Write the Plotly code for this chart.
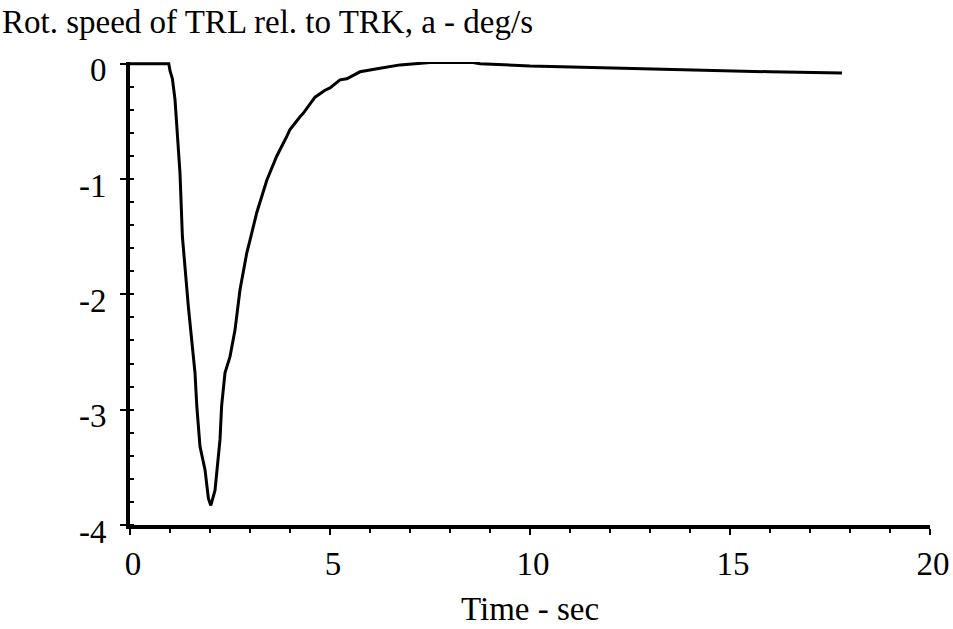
import plotly.graph_objects as go

# Relative rotational speed of trailer (TRL) w.r.t. tractor (TRK)
time_s = [0.0, 0.5, 0.97, 1.0, 1.06, 1.125, 1.25, 1.31, 1.46, 1.625, 1.67, 1.75,
          1.875, 1.96, 2.02, 2.125, 2.25, 2.29, 2.375, 2.5, 2.625, 2.75, 2.92,
          3.0, 3.17, 3.42, 3.67, 3.92, 4.0, 4.25, 4.33, 4.625, 4.875, 5.0,
          5.25, 5.42, 5.75, 6.25, 6.75, 7.5, 8.0, 8.58, 8.75, 10.0, 11.3,
          13.4, 16.0, 17.8]
rot_speed = [0.0, 0.0, 0.0, -0.06, -0.13, -0.31, -0.95, -1.50, -2.11, -2.68,
             -2.97, -3.32, -3.52, -3.77, -3.83, -3.70, -3.26, -2.97, -2.68,
             -2.54, -2.31, -1.96, -1.64, -1.53, -1.29, -1.01, -0.80, -0.63,
             -0.57, -0.46, -0.43, -0.29, -0.23, -0.21, -0.14, -0.13, -0.07,
             -0.04, -0.01, 0.01, 0.01, 0.01, 0.0, -0.02, -0.03, -0.05, -0.07,
             -0.08]

x_ticks = [0, 5, 10, 15, 20]
y_ticks = [0, -1, -2, -3, -4]

serif = "Liberation Serif, Times New Roman, serif"
fsize = 33

fig = go.Figure()
fig.add_trace(go.Scatter(
    x=time_s, y=rot_speed, mode="lines",
    line=dict(color="black", width=3),
    showlegend=False, hoverinfo="skip",
))

fig.update_layout(
    width=953, height=629,
    paper_bgcolor="white", plot_bgcolor="white",
    margin=dict(l=130, r=23, t=62, b=104),
    font=dict(family=serif, size=fsize, color="black"),
    annotations=[
        dict(text="Rot. speed of TRL rel. to TRK, a - deg/s",
             xref="paper", yref="paper", x=-0.1625, y=1.0, yshift=40,
             xanchor="left", yanchor="middle", showarrow=False,
             font=dict(family=serif, size=fsize, color="black")),
        dict(text="Time - sec",
             xref="paper", yref="paper", x=0.5, y=0.0, yshift=-84,
             xanchor="center", yanchor="middle", showarrow=False,
             font=dict(family=serif, size=fsize, color="black")),
    ],
)

fig.update_xaxes(
    range=[0, 20], tickvals=x_ticks, ticktext=[str(v) for v in x_ticks],
    automargin=False,
    showgrid=False, zeroline=False,
    showline=True, linecolor="black", linewidth=4,
    ticks="outside", ticklen=6, tickwidth=2, tickcolor="black",
    minor=dict(dtick=1, ticks="outside", ticklen=4, tickwidth=2,
               tickcolor="black", showgrid=False),
    tickfont=dict(family=serif, size=fsize),
    ticklabelshift=3,
)

fig.update_yaxes(
    range=[-4, 0.015], tickvals=y_ticks, ticktext=[str(v) for v in y_ticks],
    automargin=False,
    showgrid=False, zeroline=False,
    showline=True, linecolor="black", linewidth=4,
    ticks="outside", ticklen=6, tickwidth=2, tickcolor="black",
    minor=dict(dtick=0.2, ticks="inside", ticklen=4, tickwidth=2,
               tickcolor="black", showgrid=False),
    tickfont=dict(family=serif, size=fsize),
    ticklabelshift=6, ticklabelstandoff=7,
)

fig.write_html("out.html")
